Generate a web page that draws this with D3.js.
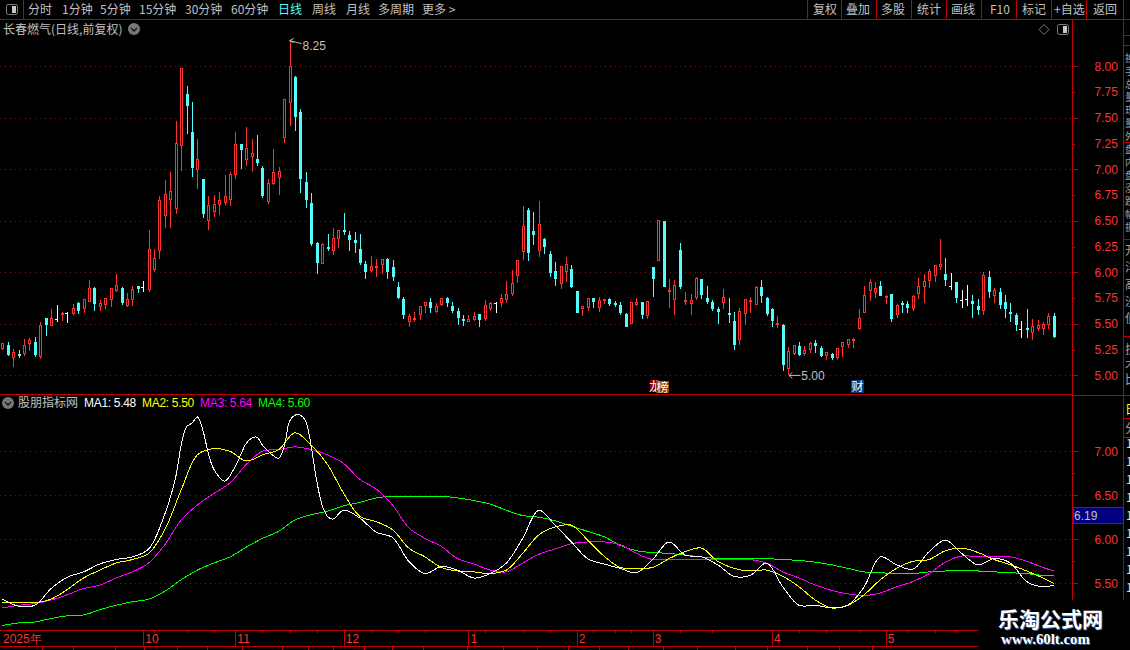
<!DOCTYPE html>
<html>
<head>
<meta charset="utf-8">
<title>长春燃气</title>
<script src="https://cdnjs.cloudflare.com/ajax/libs/d3/7.8.5/d3.min.js"></script>
<style>
    html, body { margin: 0; padding: 0; background: #000; overflow: hidden; }
    svg { display: block; }
    text { font-family: "Noto Sans CJK SC", "Liberation Sans", sans-serif; font-size: 12px; }
    .num { font-family: "Liberation Sans", sans-serif; font-size: 12px; }
</style>
</head>
<body>
<svg id="chart" width="1130" height="650"></svg>
<script>
// daily candles, left to right
const opens = [
    5.25,5.30,5.17,5.21,5.21,5.30,5.32,5.18,5.56,5.48,
    5.55,5.59,5.61,5.59,5.70,5.64,5.71,5.85,5.66,5.68,
    5.73,5.82,5.85,5.67,5.73,5.87,5.86,5.83,6.02,6.20,
    6.55,6.70,6.62,7.22,7.73,7.36,6.99,6.91,6.49,6.58,
    6.65,6.67,6.71,6.95,7.25,7.09,7.12,7.10,7.01,6.69,
    6.85,6.91,7.30,7.64,7.90,7.56,6.88,6.67,6.29,6.09,
    6.25,6.20,6.32,6.41,6.36,6.31,6.23,6.08,6.01,6.04,
    6.07,6.13,6.05,5.86,5.74,5.52,5.54,5.58,5.67,5.71,
    5.61,5.68,5.75,5.67,5.63,5.55,5.52,5.54,5.60,5.54,
    5.64,5.70,5.70,5.73,5.79,5.96,6.20,6.61,6.40,6.21,
    6.32,6.18,6.01,5.89,6.00,6.03,5.82,5.64,5.65,5.75,
    5.65,5.72,5.74,5.70,5.68,5.60,5.50,5.68,5.71,5.57,
    6.05,6.11,6.50,5.81,5.73,6.22,5.71,5.69,5.76,5.94,
    5.75,5.71,5.64,5.70,5.61,5.53,5.35,5.59,5.71,5.69,
    5.86,5.75,5.64,5.49,5.49,5.07,5.21,5.29,5.21,5.24,
    5.31,5.27,5.19,5.21,5.17,5.27,5.29,5.34,5.45,5.61,
    5.82,5.80,5.87,5.75,5.79,5.58,5.70,5.69,5.64,5.79,
    5.86,5.91,5.96,6.05,5.98,5.87,5.91,5.73,5.74,5.72,
    5.67,5.62,5.96,5.77,5.81,5.71,5.62,5.59,5.45,5.46,
    5.41,5.45,5.45,5.49,5.58
];
const closes = [
    5.31,5.20,5.23,5.20,5.30,5.34,5.19,5.49,5.49,5.56,
    5.55,5.61,5.61,5.65,5.62,5.74,5.85,5.69,5.70,5.75,
    5.85,5.88,5.70,5.74,5.84,5.84,5.86,6.23,6.14,6.70,
    6.76,6.79,7.26,7.98,7.61,7.01,7.10,6.57,6.65,6.66,
    6.70,6.74,6.96,7.25,7.19,7.21,7.16,7.06,6.74,6.87,
    6.97,6.98,7.68,8.00,7.51,6.91,6.71,6.27,6.10,6.28,
    6.23,6.33,6.41,6.39,6.31,6.28,6.09,6.00,6.06,6.06,
    6.13,6.00,5.95,5.75,5.58,5.58,5.56,5.67,5.71,5.65,
    5.67,5.75,5.70,5.62,5.56,5.53,5.55,5.58,5.54,5.68,
    5.70,5.70,5.75,5.79,5.90,6.12,6.45,6.19,6.36,6.47,
    6.24,6.00,5.93,6.06,6.08,5.86,5.61,5.67,5.75,5.71,
    5.73,5.74,5.69,5.68,5.60,5.47,5.71,5.71,5.58,5.72,
    5.93,6.51,5.86,5.83,5.88,5.86,5.73,5.73,5.95,5.78,
    5.71,5.64,5.61,5.76,5.60,5.30,5.63,5.74,5.73,5.86,
    5.77,5.59,5.52,5.51,5.10,5.24,5.30,5.20,5.25,5.31,
    5.28,5.19,5.23,5.17,5.27,5.32,5.35,5.35,5.56,5.78,
    5.91,5.85,5.77,5.77,5.55,5.68,5.68,5.65,5.77,5.87,
    5.92,6.01,6.07,6.08,5.92,5.87,5.75,5.73,5.74,5.69,
    5.63,5.97,5.81,5.83,5.68,5.64,5.61,5.49,5.45,5.44,
    5.48,5.49,5.50,5.58,5.38
];
const highs = [
    5.31,5.32,5.26,5.25,5.35,5.36,5.37,5.52,5.56,5.64,
    5.68,5.62,5.62,5.69,5.71,5.74,5.93,5.86,5.73,5.75,
    5.85,5.98,5.86,5.80,5.87,5.87,5.92,6.41,6.23,6.74,
    6.90,6.97,7.47,7.98,7.81,7.65,7.30,6.91,6.74,6.75,
    6.78,6.95,6.97,7.36,7.25,7.41,7.30,7.33,7.03,6.91,
    7.20,7.02,7.68,8.25,7.91,7.59,6.97,6.77,6.30,6.29,
    6.37,6.43,6.41,6.58,6.40,6.39,6.37,6.11,6.16,6.13,
    6.13,6.14,6.12,5.91,5.76,5.60,5.62,5.67,5.71,5.75,
    5.70,5.75,5.76,5.71,5.65,5.59,5.59,5.62,5.60,5.73,
    5.71,5.71,5.79,5.92,6.02,6.12,6.64,6.63,6.59,6.69,
    6.33,6.21,6.10,6.06,6.15,6.07,5.82,5.67,5.75,5.75,
    5.76,5.74,5.75,5.72,5.71,5.61,5.71,5.75,5.71,5.72,
    6.05,6.51,6.50,5.94,5.93,6.29,5.81,5.79,5.96,5.94,
    5.87,5.73,5.66,5.84,5.75,5.62,5.65,5.74,5.76,5.87,
    5.93,5.76,5.65,5.58,5.50,5.28,5.30,5.32,5.29,5.32,
    5.34,5.29,5.23,5.22,5.27,5.32,5.35,5.36,5.64,5.87,
    5.94,5.91,5.92,5.78,5.79,5.69,5.72,5.72,5.78,5.95,
    5.98,6.03,6.07,6.32,6.14,5.99,5.91,5.83,5.88,5.78,
    5.74,6.00,6.01,5.85,5.85,5.78,5.70,5.61,5.53,5.64,
    5.55,5.54,5.52,5.61,5.61
];
const lows = [
    5.25,5.19,5.08,5.17,5.19,5.24,5.18,5.16,5.38,5.48,
    5.52,5.53,5.51,5.59,5.60,5.61,5.71,5.63,5.63,5.64,
    5.66,5.81,5.68,5.66,5.67,5.80,5.81,5.81,6.00,6.13,
    6.43,6.43,6.57,6.98,7.34,6.93,6.81,6.53,6.41,6.54,
    6.56,6.65,6.64,6.91,7.00,7.03,6.97,7.03,6.72,6.66,
    6.85,6.75,7.26,7.42,7.37,6.77,6.63,6.26,5.98,6.09,
    6.21,6.17,6.24,6.36,6.21,6.19,6.07,5.94,6.00,5.96,
    5.98,5.94,5.92,5.74,5.55,5.47,5.52,5.54,5.61,5.61,
    5.61,5.67,5.66,5.61,5.49,5.48,5.52,5.53,5.47,5.53,
    5.63,5.61,5.66,5.70,5.77,5.90,6.12,6.11,6.27,6.15,
    6.18,5.96,5.87,5.84,5.91,5.85,5.61,5.58,5.63,5.65,
    5.62,5.69,5.67,5.66,5.59,5.47,5.50,5.67,5.55,5.55,
    5.76,6.11,5.86,5.65,5.59,5.84,5.68,5.59,5.73,5.74,
    5.69,5.63,5.50,5.64,5.51,5.25,5.30,5.49,5.61,5.68,
    5.70,5.58,5.47,5.46,5.04,5.00,5.20,5.19,5.19,5.22,
    5.22,5.18,5.15,5.15,5.15,5.18,5.27,5.27,5.44,5.61,
    5.72,5.75,5.77,5.69,5.52,5.56,5.61,5.61,5.63,5.74,
    5.70,5.85,5.91,6.02,5.87,5.83,5.70,5.65,5.67,5.56,
    5.59,5.59,5.75,5.70,5.64,5.56,5.52,5.43,5.36,5.36,
    5.34,5.43,5.39,5.45,5.36
];

// indicator lines, read every third day plus the last day
const maDays = [
    0,3,6,9,12,15,18,21,24,27,30,33,36,39,42,45,48,51,54,57,60,63,66,69,
    72,75,78,81,84,87,90,93,96,99,102,105,108,111,114,117,120,123,126,129,132,135,138,
    141,144,147,150,153,156,159,162,165,168,171,174,177,180,183,186,189,192,194
];
// MA1 moves faster, so it is read more often around its two peaks
const ma1Days = [
    0,3,6,9,12,15,18,21,24,27,30,32,33,34,35,36,37,38,39,41,43,45,46,47,48,50,51,52,53,54,55,56,57,58,59,60,61,63,66,69,
    72,75,78,81,84,87,90,93,96,99,102,105,108,111,114,117,120,123,126,129,132,135,138,
    141,144,147,150,153,156,159,162,165,168,171,174,177,180,183,186,189,192,194
];
const ma1 = [
    5.32,5.24,5.25,5.44,5.57,5.63,5.72,5.77,5.80,5.89,6.29,6.71,7.07,7.28,7.32,7.39,7.24,6.98,6.80,6.66,6.83,7.09,7.15,7.16,7.07,6.95,6.92,7.05,7.34,7.41,7.41,7.34,7.05,6.67,6.39,6.26,6.23,6.33,6.24,6.08,
    6.02,5.75,5.61,5.69,5.65,5.56,5.61,5.73,6.01,6.33,6.16,5.97,5.78,5.72,5.67,5.62,5.77,5.97,5.82,5.80,5.71,5.58,5.59,
    5.73,5.46,5.25,5.25,5.22,5.25,5.46,5.80,5.71,5.66,5.86,5.99,5.84,5.71,5.78,5.73,5.52,5.46,5.48
];
const ma2 = [
    5.28,5.28,5.28,5.32,5.43,5.56,5.65,5.73,5.77,5.84,6.11,6.56,6.96,7.03,7.00,6.89,6.96,7.02,7.21,7.07,6.85,6.52,6.26,6.20,
    6.11,5.90,5.80,5.68,5.64,5.63,5.61,5.65,5.84,6.05,6.14,6.16,5.99,5.81,5.68,5.67,5.68,5.78,5.86,5.90,5.75,5.67,5.64,
    5.65,5.58,5.46,5.31,5.22,5.25,5.37,5.54,5.67,5.75,5.77,5.87,5.90,5.85,5.77,5.71,5.64,5.56,5.50
];
const ma3 = [
    5.22,5.25,5.27,5.31,5.37,5.44,5.48,5.56,5.63,5.73,5.94,6.22,6.39,6.52,6.64,6.85,7.00,7.02,7.05,7.02,6.96,6.86,6.68,6.57,
    6.39,6.13,6.01,5.92,5.78,5.72,5.65,5.63,5.73,5.83,5.89,5.95,5.97,5.97,5.94,5.84,5.77,5.77,5.77,5.77,5.77,5.77,5.77,
    5.73,5.63,5.56,5.48,5.42,5.38,5.36,5.39,5.46,5.52,5.61,5.74,5.81,5.80,5.80,5.80,5.75,5.68,5.64
];
const ma4 = [
    5.02,5.05,5.06,5.10,5.13,5.14,5.20,5.25,5.29,5.32,5.41,5.54,5.65,5.73,5.80,5.91,6.01,6.09,6.22,6.28,6.32,6.38,6.42,6.47,
    6.49,6.49,6.49,6.49,6.47,6.44,6.40,6.33,6.27,6.25,6.21,6.15,6.09,6.03,5.93,5.87,5.85,5.84,5.82,5.80,5.78,5.78,5.78,
    5.78,5.77,5.76,5.74,5.71,5.67,5.63,5.62,5.61,5.61,5.63,5.64,5.65,5.64,5.63,5.62,5.61,5.59,5.59
];
const maNames = ['MA1', 'MA2', 'MA3', 'MA4'];
const maValues = ['5.48', '5.50', '5.64', '5.60'];
const maColors = ['#ffffff', '#ffff00', '#ff00ff', '#00ff00'];

// axis labels
const priceMajor = [8, 7.5, 7, 6.5, 6, 5.5, 5];
const priceMinor = [7.75, 7.25, 6.75, 6.25, 5.75, 5.25];
const lowerMajor = [7, 6.5, 6, 5.5];
const lowerMinor = [6.75, 6.25, 5.75];
const monthLabels = ['2025年', '10', '11', '12', '1', '2', '3', '4', '5'];
const monthDays = [0, 26, 43, 63, 86, 106, 120, 142, 163];
const weekDays = [28, 34, 39, 48, 53, 58, 68, 73, 78, 89, 96, 101, 109, 113, 116, 125, 131, 147, 152, 158, 167, 172, 176];

// toolbar
const leftTabs = ['分时', '1分钟', '5分钟', '15分钟', '30分钟', '60分钟', '日线', '周线', '月线', '多周期', '更多 >'];
const leftTabX = [28, 62, 100, 139, 185, 231, 278, 312, 346, 378, 422];
const rightTabs = ['复权', '叠加', '多股', '统计', '画线', 'F10', '标记', '+自选', '返回'];
const rightTabX = [813, 846, 881, 917, 951, 990, 1022, 1054, 1093];
const rightTabSep = [807.5, 841.5, 876.5, 911.5, 946.5, 981.5, 1016.5, 1051.5, 1086.5];

// side panel that is cut off by the window edge
const sideSmall = ['换', '手', '总', '量', '现', '量', '外', '盘', '内', '盘', '涨', '跌', '幅', '振'];
const sideLarge = ['开', '洋', '高', '沙', '低'];
const sideLower = ['技', '术', '比'];
const sideSeps = [35.5, 45.5, 142.5, 239.5, 336.5, 418.5, 437.5];
const sideBars = d3.range(9);
const bottomSeps = [42, 73, 115, 144, 177, 207, 242, 282, 308, 333, 364, 392, 423, 467, 503, 537, 568, 599, 628, 663, 697, 735, 767, 807, 839, 872];

const lineRed = '#c00000';
const textRed = '#ff3232';
const gridRed = '#8c1414';
const candleRed = '#ff3232';
const candleCyan = '#54fcfc';
const textGrey = '#c0c0c0';

const svg = d3.select('#chart');
svg.append('rect').attr('width', 1130).attr('height', 650).attr('fill', '#000');

// scales
const x = d3.scaleLinear().domain([0, 194]).range([2.3, 1053.8]);
const y = d3.scaleLinear().domain([5, 8]).range([375.4, 66.4]);
const yLow = d3.scaleLinear().domain([5.5, 7]).range([583.3, 451.3]);

// dotted grid lines
function drawGrid(values, scale) {
    svg.append('g').selectAll('line')
        .data(values)
        .enter()
        .append('line')
        .attr('x1', 0)
        .attr('x2', 1072)
        .attr('y1', d => Math.round(scale(d)) + 0.5)
        .attr('y2', d => Math.round(scale(d)) + 0.5)
        .attr('stroke', gridRed)
        .attr('stroke-dasharray', '1 4')
        .attr('shape-rendering', 'crispEdges');
}
drawGrid(priceMajor, y);
drawGrid(lowerMajor, yLow);

// candles
const days = d3.range(opens.length);
const candleGroup = svg.append('g').attr('shape-rendering', 'crispEdges');
function candleColor(i) {
    if (closes[i] > opens[i]) return candleRed;
    if (closes[i] < opens[i]) return candleCyan;
    return '#ffffff';
}
function bodyTop(i) { return Math.round(y(Math.max(opens[i], closes[i]))); }
function bodyHeight(i) { return Math.max(2, Math.round(Math.abs(y(opens[i]) - y(closes[i])))); }
candleGroup.selectAll('line.wick')
    .data(days)
    .enter()
    .append('line')
    .attr('class', 'wick')
    .attr('x1', i => Math.round(x(i)) + 0.5)
    .attr('x2', i => Math.round(x(i)) + 0.5)
    .attr('y1', i => y(highs[i]))
    .attr('y2', i => y(lows[i]))
    .attr('stroke', candleColor);
candleGroup.selectAll('rect.body')
    .data(days.filter(i => opens[i] !== closes[i]))
    .enter()
    .append('rect')
    .attr('class', 'body')
    .attr('x', i => Math.round(x(i)) - 1)
    .attr('width', 3)
    .attr('y', bodyTop)
    .attr('height', bodyHeight)
    .attr('fill', candleColor);
// rising days are hollow
candleGroup.selectAll('rect.hollow')
    .data(days.filter(i => closes[i] > opens[i] && bodyHeight(i) > 2))
    .enter()
    .append('rect')
    .attr('class', 'hollow')
    .attr('x', i => Math.round(x(i)))
    .attr('width', 1)
    .attr('y', i => bodyTop(i) + 1)
    .attr('height', i => bodyHeight(i) - 2)
    .attr('fill', '#000');
// flat days only have a stub on the left
candleGroup.selectAll('line.stub')
    .data(days.filter(i => opens[i] === closes[i]))
    .enter()
    .append('line')
    .attr('class', 'stub')
    .attr('x1', i => Math.round(x(i)) - 2)
    .attr('x2', i => Math.round(x(i)) + 1)
    .attr('y1', i => Math.round(y(closes[i])) + 0.5)
    .attr('y2', i => Math.round(y(closes[i])) + 0.5)
    .attr('stroke', '#ffffff');

// high and low markers
const hiDay = d3.greatestIndex(highs);
const loDay = d3.leastIndex(lows);
const markerGroup = svg.append('g');
markerGroup.append('path')
    .attr('d', `M${x(hiDay) + 4},${y(highs[hiDay]) - 2}L${x(hiDay)},${y(highs[hiDay])}L${x(hiDay) + 4},${y(highs[hiDay]) + 2}M${x(hiDay)},${y(highs[hiDay])}L${x(hiDay) + 12},${y(highs[hiDay]) + 3}`)
    .attr('fill', 'none')
    .attr('stroke', textGrey);
markerGroup.append('text')
    .attr('class', 'num')
    .attr('x', x(hiDay) + 13)
    .attr('y', y(highs[hiDay]) + 9)
    .attr('fill', textGrey)
    .text(highs[hiDay].toFixed(2));
markerGroup.append('path')
    .attr('d', `M${x(loDay) + 4},${y(lows[loDay]) - 3}L${x(loDay) + 1},${y(lows[loDay])}L${x(loDay) + 4},${y(lows[loDay]) + 3}M${x(loDay) + 1},${y(lows[loDay])}L${x(loDay) + 12},${y(lows[loDay])}`)
    .attr('fill', 'none')
    .attr('stroke', textGrey);
markerGroup.append('text')
    .attr('class', 'num')
    .attr('x', x(loDay) + 13)
    .attr('y', y(lows[loDay]) + 5)
    .attr('fill', textGrey)
    .text(lows[loDay].toFixed(2));

// event badges under the candles
svg.append('rect').attr('x', 650).attr('y', 380).attr('width', 9).attr('height', 12).attr('fill', '#8b0000');
svg.append('text').attr('x', 649).attr('y', 391).attr('fill', '#fff').text('龙');
svg.append('rect').attr('x', 656).attr('y', 381).attr('width', 13).attr('height', 12).attr('fill', '#8b4500');
svg.append('text').attr('x', 656.5).attr('y', 391.5).attr('fill', '#fff').text('榜');
svg.append('rect').attr('x', 851).attr('y', 380).attr('width', 13).attr('height', 13).attr('fill', '#0a3a78');
svg.append('text').attr('x', 851.5).attr('y', 391).attr('fill', '#fff').text('财');

// indicator lines
const maSeries = [[ma4, maDays, 3], [ma3, maDays, 2], [ma2, maDays, 1], [ma1, ma1Days, 0]];
maSeries.forEach(function(s) {
    const line = d3.line()
        .x((d, i) => x(s[1][i]))
        .y(d => yLow(d))
        .curve(d3.curveCatmullRom);
    svg.append('path')
        .attr('d', line(s[0]))
        .attr('fill', 'none')
        .attr('stroke', maColors[s[2]])
        .attr('stroke-width', 1)
        .attr('shape-rendering', 'crispEdges');
});

// frame lines
const frame = svg.append('g').attr('stroke', lineRed).attr('shape-rendering', 'crispEdges');
function hLine(x1, x2, yPos) { frame.append('line').attr('x1', x1).attr('x2', x2).attr('y1', yPos).attr('y2', yPos); }
function vLine(xPos, y1, y2) { frame.append('line').attr('x1', xPos).attr('x2', xPos).attr('y1', y1).attr('y2', y2); }
hLine(0, 1130, 19.5);
hLine(0, 1072, 394.5);
hLine(1072, 1130, 395.5);
hLine(0, 978, 630.5);
hLine(0, 978, 646.5);
vLine(1072.5, 19, 600);
vLine(1123.5, 0, 600);
vLine(23.5, 0, 19);
rightTabSep.forEach(s => vLine(s, 0, 19));
sideSeps.forEach(s => hLine(1123, 1130, s));
bottomSeps.forEach(s => vLine(s + 0.5, 646, 650));

// right hand price axes
function drawAxis(scale, values, tickLen, padding, showLabels) {
    const axis = d3.axisRight(scale).tickValues(values).tickSize(tickLen).tickPadding(padding);
    axis.tickFormat(showLabels ? d3.format('.2f') : '');
    const g = svg.append('g').attr('transform', 'translate(1072.5,0)').call(axis);
    g.select('path.domain').remove();
    g.selectAll('line').attr('stroke', lineRed).attr('shape-rendering', 'crispEdges');
    g.selectAll('text').attr('class', 'num').attr('fill', textRed);
}
drawAxis(y, priceMajor, 5, 17, true);
drawAxis(y, priceMinor, 2, 20, true);
drawAxis(yLow, lowerMajor, 5, 17, true);
drawAxis(yLow, lowerMinor, 2, 20, false);

// current value box on the lower axis
svg.append('rect').attr('x', 1073).attr('y', 507.5).attr('width', 50).attr('height', 16).attr('fill', '#000080').attr('stroke', lineRed).attr('shape-rendering', 'crispEdges');
svg.append('text').attr('class', 'num').attr('x', 1074).attr('y', 519.5).attr('fill', textGrey).text('6.19');

// date axis
const monthGroup = svg.append('g');
monthGroup.selectAll('line.month')
    .data(monthDays.slice(1))
    .enter()
    .append('line')
    .attr('class', 'month')
    .attr('x1', d => Math.round(x(d)) + 0.5)
    .attr('x2', d => Math.round(x(d)) + 0.5)
    .attr('y1', 630)
    .attr('y2', 646)
    .attr('stroke', lineRed)
    .attr('shape-rendering', 'crispEdges');
monthGroup.selectAll('text')
    .data(monthLabels)
    .enter()
    .append('text')
    .attr('class', 'num')
    .attr('x', (d, i) => i === 0 ? 3 : x(monthDays[i]) + 2)
    .attr('y', 643)
    .attr('fill', textRed)
    .text(d => d);
monthGroup.selectAll('line.week')
    .data(weekDays)
    .enter()
    .append('line')
    .attr('class', 'week')
    .attr('x1', d => Math.round(x(d)) + 0.5)
    .attr('x2', d => Math.round(x(d)) + 0.5)
    .attr('y1', 630)
    .attr('y2', 633)
    .attr('stroke', lineRed)
    .attr('shape-rendering', 'crispEdges');

// toolbar text
svg.append('g').selectAll('text')
    .data(leftTabs)
    .enter()
    .append('text')
    .attr('x', (d, i) => leftTabX[i])
    .attr('y', 14)
    .attr('fill', d => d === '日线' ? candleCyan : textGrey)
    .text(d => d);
svg.append('g').selectAll('text')
    .data(rightTabs)
    .enter()
    .append('text')
    .attr('x', (d, i) => rightTabX[i])
    .attr('y', 14)
    .attr('fill', textGrey)
    .text(d => d);

// small icons
function drawBoxIcon(bx, by) {
    svg.append('rect').attr('x', bx + 0.5).attr('y', by + 0.5).attr('width', 11).attr('height', 10).attr('rx', 2).attr('fill', 'none').attr('stroke', '#808080');
    svg.append('rect').attr('x', bx + 6).attr('y', by + 2).attr('width', 4).attr('height', 7).attr('fill', '#c8c8c8');
}
drawBoxIcon(6, 4);
drawBoxIcon(1057, 24);
function drawRoundIcon(cx, cy) {
    svg.append('circle').attr('cx', cx).attr('cy', cy).attr('r', 6).attr('fill', '#777');
    svg.append('path').attr('d', `M${cx - 3},${cy - 1}L${cx},${cy + 2}L${cx + 3},${cy - 1}`).attr('fill', 'none').attr('stroke', '#111').attr('stroke-width', 1.3);
}
drawRoundIcon(134, 29);
drawRoundIcon(8, 403);
svg.append('path').attr('d', 'M1044,24.5L1049,29.5L1044,34.5L1039,29.5Z').attr('fill', 'none').attr('stroke', '#808080');

// titles
svg.append('text').attr('x', 3).attr('y', 34).attr('fill', textGrey).text('长春燃气(日线,前复权)');
svg.append('text').attr('x', 18).attr('y', 407).attr('fill', textGrey).text('股朋指标网');
svg.append('g').selectAll('text')
    .data(maNames)
    .enter()
    .append('text')
    .attr('class', 'num')
    .attr('x', (d, i) => 84 + i * 58)
    .attr('y', 407)
    .attr('fill', (d, i) => maColors[i])
    .attr('letter-spacing', '-0.3')
    .text((d, i) => `${d}: ${maValues[i]}`);

// cut off text column on the far right
const sideGroup = svg.append('g').attr('fill', '#a0a0a0');
sideGroup.selectAll('text.small')
    .data(sideSmall)
    .enter()
    .append('text')
    .attr('class', 'small')
    .attr('x', 1125)
    .attr('y', (d, i) => 62 + i * 13)
    .style('font-size', '10px')
    .text(d => d);
sideGroup.selectAll('text.large')
    .data(sideLarge)
    .enter()
    .append('text')
    .attr('class', 'large')
    .attr('x', 1125)
    .attr('y', (d, i) => 255 + i * 17)
    .text(d => d);
sideGroup.selectAll('text.lower')
    .data(sideLower)
    .enter()
    .append('text')
    .attr('class', 'lower')
    .attr('x', 1125)
    .attr('y', (d, i) => 354 + i * 15)
    .text(d => d);
sideGroup.append('text').attr('x', 1125).attr('y', 414).attr('fill', '#ffff00').text('日');
sideGroup.append('text').attr('x', 1125).attr('y', 433).text('分');
sideGroup.selectAll('text.bar')
    .data(sideBars)
    .enter()
    .append('text')
    .attr('class', 'bar')
    .attr('x', 1126)
    .attr('y', i => 448 + i * 18)
    .attr('fill', '#e0e0e0')
    .text('1');

// watermark in the corner
svg.append('rect').attr('x', 1073).attr('y', 600).attr('width', 57).attr('height', 50).attr('fill', '#000');
svg.append('rect').attr('x', 978).attr('y', 606).attr('width', 152).attr('height', 44).attr('fill', '#000');
[['#3a5a9a', 1], ['#ffffff', 0]].forEach(function(layer) {
    svg.append('text')
        .attr('x', 998 + layer[1])
        .attr('y', 627 + layer[1])
        .attr('fill', layer[0])
        .style('font-size', '21px')
        .attr('font-weight', 700)
        .text('乐淘公式网');
    svg.append('text')
        .attr('x', 1001 + layer[1])
        .attr('y', 644 + layer[1])
        .attr('fill', layer[0])
        .style('font-family', '"Liberation Serif", serif')
        .style('font-size', '14.8px')
        .attr('font-weight', 700)
        .text('www.60lt.com');
});
</script>
</body>
</html>
